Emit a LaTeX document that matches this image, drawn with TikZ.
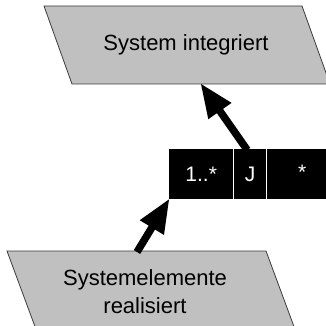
\documentclass[tikz,border=0pt]{standalone}
\usepackage{fontspec}
\setmainfont{Liberation Sans}
\usetikzlibrary{arrows.meta}
\begin{document}
\begin{tikzpicture}[x=1pt,y=-1pt,
  state/.style={fill={rgb,255:red,192;green,192;blue,192},draw={rgb,255:red,60;green,60;blue,60},line width=0.8pt},
  lbl/.style={font=\fontsize{22}{26}\selectfont,align=center,inner sep=0pt},
  cell/.style={fill=black,draw=none,minimum height=50pt,inner sep=0pt,text=white,font=\fontsize{21}{24}\selectfont},
  bigarrow/.style={line width=7.5pt,-{Triangle[length=34pt,width=26pt]},shorten >=-1pt}]
\useasboundingbox (0,0) rectangle (326,326);
\clip (0,0) rectangle (326,326);
% top state
\draw[state] (44,6) -- (302,6) -- (330,84) -- (72,84) -- cycle;
\node[lbl] (top) at (186,45) {System integriert};
\coordinate (topin) at (201,84);
% bottom state
\draw[state] (7,251) -- (266,251) -- (296,332) -- (37,332) -- cycle;
\node[lbl] (bot) at (145,292) {Systemelemente\\[2pt]realisiert};
\coordinate (botout) at (137,252);
% cells
\node[cell,minimum width=64pt,anchor=north west] (c1) at (169,149) {1..*};
\node[cell,minimum width=32pt,anchor=north west] (c2) at (234,149) {J};
\node[cell,minimum width=70pt,anchor=north west] (c3) at (267,149) {\raisebox{3pt}{*}};
\draw[white,line width=0.9pt] (c1.north east) -- (c1.south east);
\draw[white,line width=0.9pt] (c2.north east) -- (c2.south east);
% arrows
\coordinate (jtop) at ([xshift=-3pt,yshift=-1pt]c2.north);
\draw[bigarrow] (jtop) -- (topin);
\draw[bigarrow] (botout) -- (c1.south west);
\end{tikzpicture}
\end{document}
